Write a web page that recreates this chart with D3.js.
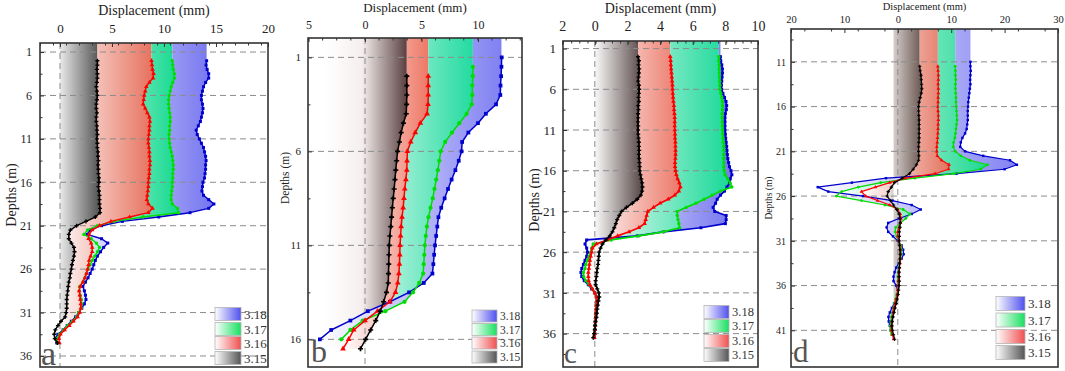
<!DOCTYPE html>
<html>
<head>
<meta charset="utf-8">
<script src="https://cdn.jsdelivr.net/npm/d3@7"></script>
<style>
  body { margin: 0; background: #fff; }
  svg text { font-family: "Liberation Serif", "Times New Roman", Times, "DejaVu Serif", serif; }
</style>
</head>
<body>
<svg id="chart" width="1065" height="371"></svg>
<script>
// legend labels (top to bottom) and series order used below: 3.15, 3.16, 3.17, 3.18
const legendLabels = ["3.18", "3.17", "3.16", "3.15"];

// ---- panel a ----
const aDepths = [2,2.5,3,3.5,4,4.5,5,5.5,6,6.5,
  7,7.5,8,8.5,9,9.5,10,10.5,11,11.5,
  12,12.5,13,13.5,14,14.5,15,15.5,16,16.5,
  17,17.5,18,18.5,19,19.5,20,20.5,21,21.5,
  22,22.5,23,23.5,24,24.5,25,25.5,26,26.5,
  27,27.5,28,28.5,29,29.5,30,30.5,31,31.5,
  32,32.5,33,33.5,34,34.5];
const a315 = [3.6,3.6,3.55,3.6,3.6,3.55,3.5,3.55,3.6,3.55,
  3.5,3.5,3.55,3.5,3.5,3.55,3.55,3.6,3.55,3.6,
  3.6,3.65,3.65,3.7,3.65,3.7,3.7,3.75,3.75,3.7,
  3.75,3.8,3.8,3.8,3.85,3.85,3.4,2.5,1.6,1.0,
  0.85,0.85,1.1,1.35,1.4,1.35,1.25,1.15,1.1,1.0,
  0.95,0.85,0.8,0.75,0.7,0.65,0.65,0.65,0.6,0.5,
  0.1,-0.2,-0.45,-0.55,-0.5,-0.25];
const a316 = [8.8,8.85,8.9,9.0,8.95,8.6,8.3,8.2,8.1,8.05,
  8.0,8.2,8.4,8.6,8.65,8.6,8.6,8.55,8.5,8.5,
  8.55,8.6,8.6,8.65,8.65,8.6,8.6,8.55,8.5,8.5,
  8.45,8.4,8.35,8.5,8.9,8.5,6.7,4.9,3.8,3.1,
  2.8,2.75,3.0,3.1,3.1,2.95,2.8,2.75,2.65,2.55,
  2.4,2.2,1.95,1.85,1.9,1.95,2.0,2.0,1.9,1.7,
  1.3,0.9,0.45,0.05,-0.1,-0.05];
const a317 = [10.8,10.85,10.9,11.0,11.0,10.85,10.7,10.6,10.5,10.45,
  10.45,10.5,10.55,10.6,10.6,10.55,10.55,10.5,10.5,10.55,
  10.6,10.7,10.8,10.85,10.9,10.9,10.85,10.85,10.8,10.8,
  10.75,10.7,10.7,10.8,11.3,11.4,8.0,5.2,3.6,2.65,
  2.3,3.0,3.5,3.8,3.6,3.35,3.1,2.9,2.7,2.55,
  2.4,2.2,1.9,1.85,1.95,2.05,2.1,2.05,1.8,1.6,
  1.2,0.75,0.35,-0.05,-0.3,-0.2];
const a318 = [14.1,14.05,14.15,14.3,14.3,14.0,13.8,13.7,13.6,13.6,
  13.7,13.75,13.7,13.6,13.5,13.3,13.1,13.2,13.4,13.6,
  13.8,13.9,14.0,14.05,14.0,14.0,13.95,13.9,13.75,13.7,
  13.65,13.8,14.3,14.8,14.3,12.5,9.5,6.0,4.0,2.9,
  2.6,4.0,4.6,4.2,3.9,3.6,3.4,3.25,3.1,2.9,
  2.7,2.45,2.2,2.35,2.45,2.5,2.35,2.1,1.8,1.5,
  1.1,0.7,0.3,-0.2,-0.45,-0.3];

// ---- panel b ----
const bDepths = [1,1.5,2,2.5,3,3.5,4,4.5,5,5.5,
  6,6.5,7,7.5,8,8.5,9,9.5,10,10.5,
  11,11.5,12,12.5,13,13.5,14,14.5,15,15.5,
  16,16.5];
const b315 = [null,null,3.7,3.7,3.7,3.68,3.65,3.4,3.2,3.05,
  2.88,2.8,2.72,2.65,2.58,2.5,2.42,2.35,2.28,2.2,
  2.15,2.12,2.1,2.08,2.06,1.9,1.65,1.35,0.95,0.5,
  0.05,-0.4];
const b316 = [null,null,5.6,5.6,5.6,5.58,5.5,4.9,4.45,4.05,
  3.75,3.72,3.7,3.62,3.52,3.45,3.38,3.28,3.2,3.15,
  3.1,3.08,3.05,3.0,2.9,2.7,2.2,1.1,0.0,-1.0,
  -1.45,-1.95];
const b317 = [null,9.55,9.55,9.5,9.5,9.45,9.0,8.35,7.7,7.1,
  6.7,6.58,6.45,6.3,6.15,6.0,5.8,5.62,5.48,5.38,
  5.3,5.25,5.2,5.15,4.8,4.25,3.5,1.8,-0.2,-1.3,
  -2.1,null];
const b318 = [12.1,12.08,12.05,12.0,11.98,11.6,10.7,10.0,9.15,8.6,
  8.55,8.3,8.0,7.67,7.35,7.05,6.75,6.5,6.4,6.3,
  6.2,6.12,6.05,5.97,5.2,3.9,2.2,0.25,-1.3,-3.0,
  -4.0,null];

// ---- panel c ----
const cDepths = [2,2.5,3,3.5,4,4.5,5,5.5,6,6.5,
  7,7.5,8,8.5,9,9.5,10,10.5,11,11.5,
  12,12.5,13,13.5,14,14.5,15,15.5,16,16.5,
  17,17.5,18,18.5,19,19.5,20,20.5,21,21.5,
  22,22.5,23,23.5,24,24.5,25,25.5,26,26.5,
  27,27.5,28,28.5,29,29.5,30,30.5,31,31.5,
  32,32.5,33,33.5,34,34.5,35,35.5,36,36.5];
const c315 = [2.65,2.7,2.68,2.72,2.7,2.68,2.66,2.7,2.72,2.7,
  2.68,2.7,2.66,2.68,2.65,2.66,2.64,2.66,2.65,2.66,
  2.68,2.7,2.7,2.72,2.7,2.72,2.74,2.75,2.75,2.8,
  2.85,2.9,2.92,2.9,2.82,2.6,2.3,1.94,1.64,1.5,
  1.37,1.29,1.19,1.08,0.92,0.67,0.47,0.35,0.27,0.24,
  0.22,0.2,0.15,0.12,0.1,0.05,0.05,0.15,0.25,0.27,
  0.22,0.18,0.15,0.12,0.1,0.05,0.02,0.0,-0.05,-0.1];
const c316 = [4.62,4.65,4.66,4.68,4.7,4.72,4.74,4.76,4.76,4.78,
  4.8,4.82,4.85,4.86,4.88,4.9,4.9,4.9,4.9,4.92,
  4.92,4.94,4.94,4.95,4.95,4.94,4.92,4.92,4.95,5.0,
  5.08,5.18,5.25,5.15,4.9,4.5,4.0,3.6,3.25,3.18,
  3.12,3.05,2.7,2.1,1.4,0.75,0.1,-0.15,-0.2,-0.25,
  -0.3,-0.33,-0.36,-0.4,-0.4,-0.38,-0.3,-0.15,0.0,0.1,
  0.12,0.1,0.08,0.06,0.05,0.03,0.02,0.0,0.0,-0.02];
const c317 = [7.6,7.6,7.62,7.62,7.63,7.64,7.65,7.66,7.67,7.72,
  7.78,7.82,7.83,7.82,7.8,7.8,7.8,7.82,7.83,7.84,
  7.86,7.88,7.9,7.9,7.9,7.9,7.9,7.9,7.92,7.98,
  8.15,8.3,8.4,7.7,7.2,6.7,6.2,5.6,5.05,5.05,
  5.1,5.15,5.2,4.2,2.7,1.0,-0.1,-0.2,-0.25,-0.35,
  -0.45,-0.55,-0.6,-0.7,-0.68,-0.55,-0.35,-0.15,0.0,0.1,
  0.12,0.1,0.08,0.06,0.05,0.03,0.02,0.0,0.0,-0.02];
const c318 = [7.7,7.72,7.78,7.82,7.82,7.8,7.78,7.76,7.77,7.85,
  7.95,8.04,8.08,8.06,8.0,7.98,7.98,7.98,7.98,8.0,
  8.02,8.05,8.08,8.1,8.12,8.15,8.2,8.25,8.35,8.4,
  8.3,8.25,8.1,7.95,7.7,7.5,7.4,7.25,7.35,8.05,
  8.05,8.0,6.5,4.2,2.6,-0.5,-0.6,-0.5,-0.45,-0.5,
  -0.6,-0.7,-0.8,-0.85,-0.8,-0.65,-0.4,-0.2,0.0,0.1,
  0.12,0.1,0.08,0.06,0.05,0.03,0.02,0.0,0.0,-0.02];

// ---- panel d ----
const dDepths = [11,11.5,12,12.5,13,13.5,14,14.5,15,15.5,
  16,16.5,17,17.5,18,18.5,19,19.5,20,20.5,
  21,21.5,22,22.5,23,23.5,24,24.5,25,25.5,
  26,26.5,27,27.5,28,28.5,29,29.5,30,30.5,
  31,31.5,32,32.5,33,33.5,34,34.5,35,35.5,
  36,36.5,37,37.5,38,38.5,39,39.5,40,40.5,
  41,41.5,42];
const d315 = [null,4.1,4.2,4.35,4.4,4.45,4.5,4.4,4.2,4.0,
  3.9,3.9,3.95,4.0,4.0,4.0,4.0,4.0,3.95,3.9,
  3.9,3.95,3.9,3.5,2.9,2.2,0.8,-0.6,-1.2,-1.8,
  -2.0,-1.4,-0.8,-0.2,0.25,0.4,0.45,0.4,0.3,0.3,
  0.25,0.3,0.4,0.45,0.4,0.35,0.3,0.25,0.25,0.3,
  0.25,0.15,0.05,-0.1,-0.3,-0.5,-0.7,-0.9,-1.05,-1.1,
  -1.0,-0.8,-0.6];
const d316 = [null,7.5,7.55,7.6,7.6,7.55,7.6,7.6,7.55,7.55,
  7.5,7.55,7.6,7.6,7.55,7.55,7.5,7.45,7.4,7.3,
  7.3,7.4,8.2,9.6,9.5,7.0,1.5,-1.5,-4.2,-6.8,
  -6.0,-3.8,-1.5,0.0,0.45,0.6,0.5,0.2,0.0,0.0,
  0.2,0.4,0.5,0.5,0.45,0.4,0.3,0.2,0.15,0.1,
  0.1,0.0,-0.1,-0.3,-0.5,-0.7,-0.9,-1.0,-1.1,-1.2,
  -1.2,-1.0,-0.8];
const d317 = [null,10.75,10.8,10.8,10.85,10.8,10.8,10.85,10.9,10.9,
  10.95,11.0,11.05,11.1,11.0,10.9,10.8,10.7,10.45,10.4,
  10.75,11.8,13.5,16.8,15.5,10.5,3.2,-3.2,-7.4,-10.5,
  -11.5,-6.8,-2.4,1.0,2.3,1.5,0.5,-0.4,-0.5,-0.2,
  0.2,0.55,0.7,0.65,0.5,0.35,0.2,0.1,0.0,0.0,
  0.05,0.0,-0.2,-0.4,-0.6,-0.8,-1.0,-1.2,-1.3,-1.4,
  -1.4,-1.2,null];
const d318 = [13.6,13.6,13.65,13.6,13.55,13.6,13.5,13.4,13.3,13.2,
  13.15,13.1,13.1,13.1,13.0,12.9,12.6,12.1,11.8,11.7,
  12.6,16.0,21.0,22.3,20.0,11.0,-2.2,-8.6,-15.0,-13.0,
  -6.5,-1.0,2.6,4.3,2.6,0.2,-1.8,-2.1,-1.8,-0.9,
  0.0,0.7,1.0,1.1,0.7,0.2,-0.3,-0.6,-0.8,-0.8,
  -0.3,0.0,-0.1,-0.3,-0.7,-1.1,-1.5,-1.75,-1.7,-1.5,
  -1.3,-1.0,null];

// line colours for 3.15, 3.16, 3.17, 3.18
const lineColors = ["#000000", "#ff0000", "#00dd00", "#0000cc"];
const legendColors = ["#5050ee", "#18e060", "#f05050", "#555555"];

const panels = [
  { key: "a", depths: aDepths, series: [a315, a316, a317, a318],
    left: 40, right: 268, top: 43, bottom: 367, xDomain: [-1.92, 20], yDomain: [-0.04, 37.27],
    xTicks: [0, 5, 10, 15, 20], xMinorStep: 2.5, yTicks: [1, 6, 11, 16, 21, 26, 31, 36], base: 0,
    bands: ["#505050", "#e6705c", "#12d98f", "#7474f0"], grayMid: null,
    titleY: 15, titleSize: 14, tickY: 33, tickSize: 13, yTickX: 32, yTickSize: 12,
    depthX: 16, depthY: 195, depthSize: 14,
    legX: 215, legW: 26, legH: 13, legRows: [314, 329, 343, 358], legSize: 13,
    letterX: 41, letterY: 365, letterSize: 34, lineW: 1.4, sym: 9 },
  { key: "b", depths: bDepths, series: [b315, b316, b317, b318],
    left: 308, right: 522, top: 38, bottom: 367, xDomain: [-5.05, 13.9], yDomain: [-0.03, 17.47],
    xTicks: [-5, 0, 5, 10], xMinorStep: 2.5, yTicks: [1, 6, 11, 16], base: -3.5,
    bands: ["#5a4040", "#ee7866", "#22dba0", "#8080f2"], grayMid: [0.45, "#f5eeee"],
    titleY: 12, titleSize: 13, tickY: 29, tickSize: 12, yTickX: 301, yTickSize: 11,
    depthX: 289, depthY: 178, depthSize: 11.5,
    legX: 472, legW: 25, legH: 12, legRows: [316, 329.5, 343, 357], legSize: 11.5,
    letterX: 311, letterY: 362, letterSize: 32, lineW: 1.5, sym: 14 },
  { key: "c", depths: cDepths, series: [c315, c316, c317, c318],
    left: 563, right: 758, top: 41, bottom: 367, xDomain: [-1.95, 10], yDomain: [0.07, 40.1],
    xTicks: [-2, 0, 2, 4, 6, 8, 10], xMinorStep: 1, yTicks: [1, 6, 11, 16, 21, 26, 31, 36], base: 0,
    bands: ["#574646", "#ec7868", "#14d896", "#7676f0"], grayMid: null,
    titleY: 13, titleSize: 14, tickY: 31, tickSize: 14, yTickX: 556, yTickSize: 13,
    depthX: 539, depthY: 200, depthSize: 14,
    legX: 704, legW: 25, legH: 13, legRows: [312, 326, 341, 355], legSize: 12.5,
    letterX: 564, letterY: 363, letterSize: 29, lineW: 1.7, sym: 9 },
  { key: "d", depths: dDepths, series: [d315, d316, d317, d318],
    left: 791, right: 1058, top: 29, bottom: 367, xDomain: [-20, 30], yDomain: [7.33, 45.1],
    xTicks: [-20, -10, 0, 10, 20, 30], xMinorStep: 5, yTicks: [11, 16, 21, 26, 31, 36, 41], base: -0.8,
    bands: ["#6a5650", "#e4735f", "#1cd892", "#8282f2"], grayMid: [0.0, "#ece8e6"],
    titleY: 10, titleSize: 10.5, tickY: 23, tickSize: 10.5, yTickX: 786, yTickSize: 10,
    depthX: 772, depthY: 198, depthSize: 9.5,
    legX: 996, legW: 29, legH: 14, legRows: [303.5, 320, 336.5, 352.5], legSize: 13,
    letterX: 793, letterY: 362, letterSize: 31, lineW: 1.2, sym: 6 }
];

const serif = "Liberation Serif, Times New Roman, Times, DejaVu Serif, serif";
const svg = d3.select("#chart").attr("font-family", serif);
const defs = svg.append("defs");
const symbols = [d3.symbolCross, d3.symbolTriangle, d3.symbolCircle, d3.symbolSquare];

function makeGradient(id, color, mid) {
  const g = defs.append("linearGradient").attr("id", id)
    .attr("x1", 0).attr("x2", 1).attr("y1", 0).attr("y2", 0);
  g.append("stop").attr("offset", 0).attr("stop-color", "#ffffff");
  if (mid) g.append("stop").attr("offset", mid[0]).attr("stop-color", mid[1]);
  g.append("stop").attr("offset", 1).attr("stop-color", color);
}

panels.forEach(p => {
  const x = d3.scaleLinear().domain(p.xDomain).range([p.left, p.right]);
  const y = d3.scaleLinear().domain(p.yDomain).range([p.top, p.bottom]);
  const g = svg.append("g").attr("class", "panel-" + p.key);

  defs.append("clipPath").attr("id", "clip-" + p.key)
    .append("rect").attr("x", p.left).attr("y", p.top)
    .attr("width", p.right - p.left).attr("height", p.bottom - p.top);
  const plot = g.append("g").attr("clip-path", `url(#clip-${p.key})`);

  // gradient bands: 0 -> 3.15, 3.15 -> 3.16, 3.16 -> 3.17, 3.17 -> 3.18
  const baseArr = p.depths.map(() => p.base);
  const lows = [baseArr, p.series[0], p.series[1], p.series[2]];
  const area = d3.area().y(o => y(o.d)).x0(o => x(o.lo)).x1(o => x(o.hi));
  p.series.forEach((vals, k) => {
    const pts = p.depths.map((d, i) => ({ d: d, lo: lows[k][i], hi: vals[i] }))
      .filter(o => o.lo != null && o.hi != null);
    // fill reaches the top of the frame
    pts.unshift({ d: p.yDomain[0], lo: pts[0].lo, hi: pts[0].hi });
    const gid = `band-${p.key}-${k}`;
    makeGradient(gid, p.bands[k], k === 0 ? p.grayMid : null);
    plot.append("path").datum(pts).attr("d", area).attr("fill", `url(#${gid})`);
  });

  // dashed grid lines and zero line
  plot.selectAll(".grid").data(p.yTicks).enter().append("line")
    .attr("x1", p.left).attr("x2", p.right)
    .attr("y1", d => y(d)).attr("y2", d => y(d))
    .attr("stroke", "#8c8c8c").attr("stroke-width", 1).attr("stroke-dasharray", "6,4");
  plot.append("line")
    .attr("x1", x(0)).attr("x2", x(0)).attr("y1", p.top).attr("y2", p.bottom)
    .attr("stroke", "#8c8c8c").attr("stroke-width", 1).attr("stroke-dasharray", "6,4");

  // curves, 3.18 drawn first so 3.15 sits on top
  [3, 2, 1, 0].forEach(k => {
    const vals = p.series[k];
    const pts = p.depths.map((d, i) => ({ d: d, v: vals[i] }));
    plot.append("path").datum(pts)
      .attr("d", d3.line().defined(o => o.v != null).x(o => x(o.v)).y(o => y(o.d)))
      .attr("fill", "none").attr("stroke", lineColors[k]).attr("stroke-width", p.lineW)
      .attr("stroke-linejoin", "round");
    plot.selectAll(null).data(pts.filter(o => o.v != null)).enter().append("path")
      .attr("d", d3.symbol().type(symbols[k]).size(p.sym))
      .attr("transform", o => `translate(${x(o.v)},${y(o.d)})`)
      .attr("fill", lineColors[k]);
  });

  // axes
  const fmt = d => String(Math.abs(d));
  const xMinor = d3.range(p.xDomain[0], p.xDomain[1] + 1e-9, p.xMinorStep / 2)
    .filter(v => Math.abs(Math.round(v / p.xMinorStep) * p.xMinorStep - v) > 1e-6);
  const yStep = p.yTicks[1] - p.yTicks[0];
  const yMinor = p.yTicks.map(t => t + yStep / 2).concat([p.yTicks[0] - yStep / 2])
    .filter(v => v > p.yDomain[0] && v < p.yDomain[1]);

  const xa = g.append("g").attr("transform", `translate(0,${p.top})`)
    .call(d3.axisTop(x).tickValues(p.xTicks).tickFormat(fmt)
      .tickSize(-4).tickSizeOuter(0).tickPadding(p.top - p.tickY));
  xa.attr("font-family", serif).attr("font-size", p.tickSize);
  g.append("g").attr("transform", `translate(0,${p.top})`)
    .call(d3.axisTop(x).tickValues(xMinor.map(v => Math.round(v * 100) / 100)).tickFormat("")
      .tickSize(-2.5).tickSizeOuter(0))
    .call(a => a.select(".domain").remove());

  const ya = g.append("g").attr("transform", `translate(${p.left},0)`)
    .call(d3.axisLeft(y).tickValues(p.yTicks).tickFormat(d => d)
      .tickSize(-4).tickSizeOuter(0).tickPadding(p.left - p.yTickX));
  ya.attr("font-family", serif).attr("font-size", p.yTickSize);
  g.append("g").attr("transform", `translate(${p.left},0)`)
    .call(d3.axisLeft(y).tickValues(yMinor).tickFormat("").tickSize(-2.5).tickSizeOuter(0))
    .call(a => a.select(".domain").remove());

  g.selectAll(".domain").remove();
  g.selectAll(".tick line").attr("stroke", "#333");
  g.selectAll(".tick text").attr("fill", "#222").attr("font-family", serif);

  // frame
  g.append("rect").attr("x", p.left).attr("y", p.top)
    .attr("width", p.right - p.left).attr("height", p.bottom - p.top)
    .attr("fill", "none").attr("stroke", "#333").attr("stroke-width", 1.6);

  // titles
  g.append("text").attr("x", (p.left + p.right) / 2).attr("y", p.titleY)
    .attr("text-anchor", "middle").attr("font-size", p.titleSize).attr("fill", "#222")
    .attr("font-family", serif).text("Displacement (mm)");
  g.append("text").attr("transform", `translate(${p.depthX},${p.depthY}) rotate(-90)`)
    .attr("text-anchor", "middle").attr("font-size", p.depthSize).attr("fill", "#222")
    .attr("font-family", serif).text("Depths (m)");

  // panel letter
  g.append("text").attr("x", p.letterX).attr("y", p.letterY)
    .attr("font-size", p.letterSize).attr("fill", "#555")
    .attr("font-family", serif).text(p.key);

  // legend
  legendLabels.forEach((lab, i) => {
    const gid = `leg-${p.key}-${i}`;
    makeGradient(gid, legendColors[i], null);
    const cy = p.legRows[i];
    g.append("rect").attr("x", p.legX).attr("y", cy - p.legH / 2)
      .attr("width", p.legW).attr("height", p.legH)
      .attr("fill", `url(#${gid})`).attr("stroke", "#b5b5b5").attr("stroke-width", 0.8);
    g.append("text").attr("x", p.legX + p.legW + 3).attr("y", cy).attr("dy", "0.35em")
      .attr("font-size", p.legSize).attr("fill", "#333")
      .attr("font-family", serif).text(lab);
  });
});
</script>
</body>
</html>
